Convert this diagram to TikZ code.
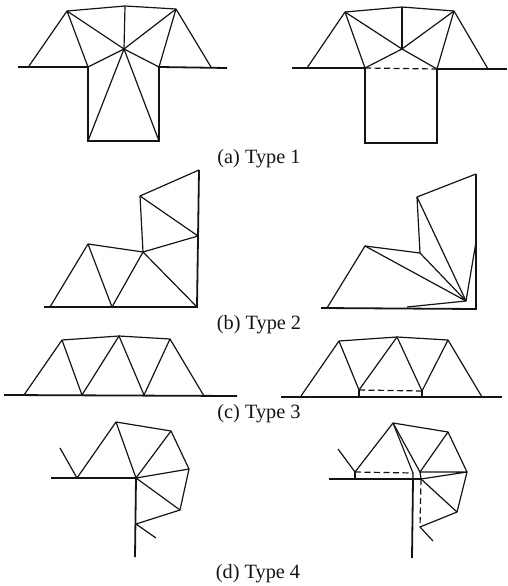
\documentclass[tikz,border=0pt]{standalone}
\usepackage{fontspec}
\setmainfont{Liberation Serif}
\usepackage{tikz}
\definecolor{Ink}{HTML}{141414}
\tikzset{
  meshline/.style={draw=Ink,line width=1.2pt,line join=round},
  wallline/.style={draw=Ink,line width=1.8pt,line join=miter},
  hiddenline/.style={draw=Ink,line width=1.2pt,dash pattern=on 6pt off 3.5pt},
  captionlabel/.style={text=Ink,inner sep=0pt,font=\fontsize{20.3}{24}\selectfont}
}

\begin{document}
\begin{tikzpicture}[x=1pt,y=-1pt]
      \useasboundingbox (0,0) rectangle (508,586);
      % type 1, before
      \foreach \name/\pos in {aL/{18,67},aF/{29,66},aC/{88,67},aD/{159,67},aG/{211,67},aR/{227,68},
          aP/{88,141},aQ/{159,141},aS/{67,11},aT/{125,6},aU/{176,9},aM/{124,49}}
        \coordinate (\name) at (\pos);
      \draw[wallline] (aL) -- (aC) -- (aP) -- (aQ) -- (aD) -- (aR);
      \draw[meshline] (aF) -- (aS) -- (aT) -- (aU) -- (aG);
      \draw[meshline] (aS) -- (aC) -- (aM) -- (aS);
      \draw[meshline] (aU) -- (aD) -- (aM) -- (aU);
      \draw[meshline] (aT) -- (aM) -- (aP);
      \draw[meshline] (aM) -- (aQ);
      % type 1, after
      \foreach \name/\pos in {eL/{292,68},eF/{307,68},eC/{365,68},eD/{437,69},eG/{488,69},eR/{507,69},
          eP/{365,143},eQ/{437,143},eS/{345,12},eT/{402,7},eU/{454,11},eM/{402,49}}
        \coordinate (\name) at (\pos);
      \draw[wallline] (eL) -- (eC) -- (eP) -- (eQ) -- (eD) -- (eR);
      \draw[hiddenline] (eC) -- (eD);
      \draw[meshline] (eF) -- (eS) -- (eT) -- (eU) -- (eG);
      \draw[meshline] (eS) -- (eC) -- (eM) -- (eS);
      \draw[meshline] (eU) -- (eD) -- (eM) -- (eU);
      \draw[meshline] (eT) -- (eM);
      % type 2, before
      \foreach \name/\pos in {bL/{44,307},bF/{50,307},bG/{112,307},bC/{197,307},bE/{199,170},
          bH/{198,236},bS/{140,196},bM/{143,252},bT/{88,244}}
        \coordinate (\name) at (\pos);
      \draw[wallline] (bL) -- (bC) -- (bE);
      \draw[meshline] (bF) -- (bT) -- (bM) -- (bS) -- (bE);
      \draw[meshline] (bT) -- (bG) -- (bM) -- (bC);
      \draw[meshline] (bM) -- (bH) -- (bS);
      % type 2, after
      \foreach \name/\pos in {fL/{321,308},fF/{327,308},fC/{476,309},fE/{476,174},fH/{476,242},
          fS/{417,197},fM/{420,253},fT/{365,246},fN/{407,307},fV/{466,301}}
        \coordinate (\name) at (\pos);
      \draw[wallline] (fL) -- (fC) -- (fE);
      \draw[meshline] (fF) -- (fT) -- (fM) -- (fS) -- (fE);
      \draw[meshline] (fN) -- (fV) -- (fH);
      \draw[meshline] (fT) -- (fV) -- (fM);
      \draw[meshline] (fS) -- (fV);
      % type 3, before
      \foreach \name/\pos in {cL/{4,395},cF/{24,395},cG/{82,395},cH/{144,395},cI/{204,396},cR/{237,396},
          cS/{62,340},cT/{119,336},cU/{170,339}}
        \coordinate (\name) at (\pos);
      \draw[wallline] (cL) -- (cR);
      \draw[meshline] (cF) -- (cS) -- (cT) -- (cU) -- (cI);
      \draw[meshline] (cS) -- (cG) -- (cT) -- (cH) -- (cU);
      % type 3, after
      \foreach \name/\pos in {gL/{281,397},gF/{301,396},gG/{359,397},gH/{422,397},gI/{482,397},gR/{502,397},
          gA/{359,390},gB/{422,391},gS/{339,341},gT/{397,337},gU/{448,340}}
        \coordinate (\name) at (\pos);
      \draw[wallline] (gL) -- (gR);
      \draw[meshline] (gG) -- (gA);
      \draw[meshline] (gH) -- (gB);
      \draw[hiddenline] (gA) -- (gB);
      \draw[meshline] (gF) -- (gS) -- (gT) -- (gU) -- (gI);
      \draw[meshline] (gS) -- (gA) -- (gT) -- (gB) -- (gU);
      % type 4, before
      \foreach \name/\pos in {dL/{51,478},dF/{77,478},dC/{136,478},dE/{135,557},dK/{60,448},dS/{116,422},
          dT/{171,431},dU/{189,469},dV/{180,510},dW/{136,524},dX/{156,538}}
        \coordinate (\name) at (\pos);
      \draw[wallline] (dL) -- (dC) -- (dE);
      \draw[meshline] (dK) -- (dF) -- (dS) -- (dT) -- (dU) -- (dV) -- (dW) -- (dX);
      \draw[meshline] (dS) -- (dC) -- (dT);
      \draw[meshline] (dU) -- (dC) -- (dV);
      % type 4, after
      \foreach \name/\pos in {hL/{329,479},hC/{413,479},hD/{421,479},hE/{412,558},hF/{355,472},hK/{338,449},
          hS/{393,423},hT/{448,432},hU/{467,472},hV/{457,512},hW/{420,527},hX/{433,541},
          hA/{413,473},hB/{420,472}}
        \coordinate (\name) at (\pos);
      \draw[wallline] (hL) -- (hD);
      \draw[wallline] (hC) -- (hE);
      \draw[meshline] (hF) -- (hL -| hF);
      \draw[hiddenline] (hF) -- (hA);
      \draw[hiddenline] (hD) -- (hW);
      \draw[meshline] (hK) -- (hF) -- (hS) -- (hT) -- (hU) -- (hV) -- (hW) -- (hX);
      \draw[meshline] (hS) -- (hA) -- (hC);
      \draw[meshline] (hS) -- (hB) -- (hT);
      \draw[meshline] (hB) -- (hU) -- (hD) -- (hB);
      \draw[meshline] (hD) -- (hV);
      % captions
      \node[captionlabel] (capa) at (259,158.5) {(a) Type 1};
      \node[captionlabel] (capb) at (259,325) {(b) Type 2};
      \node[captionlabel] (capc) at (259,414) {(c) Type 3};
      \node[captionlabel] (capd) at (258,574) {(d) Type 4};
    \end{tikzpicture}
\end{document}
